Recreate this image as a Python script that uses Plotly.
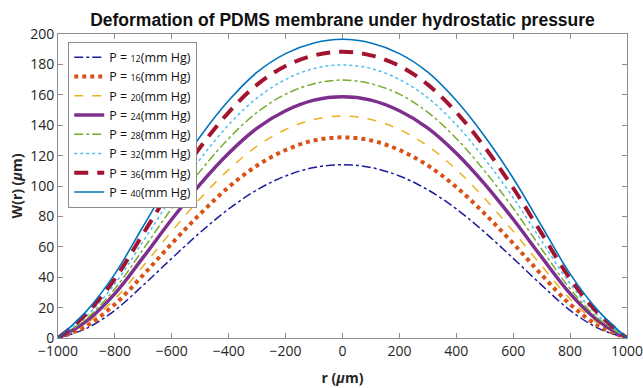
import plotly.graph_objects as go

r = [-1000, -900, -800, -700, -600, -500, -400, -300, -200, -100, 0,
     100, 200, 300, 400, 500, 600, 700, 800, 900, 1000]

pressures = ["12", "16", "20", "24", "28", "32", "36", "40"]

w12 = [0, 6.3, 18.2, 34.8, 52.4, 69.5, 84.9, 97.5, 106.6, 112.2, 114.0,
       112.2, 106.6, 97.5, 84.9, 69.5, 52.4, 34.8, 18.2, 6.3, 0]
w16 = [0, 7.9, 22.2, 41.6, 62.2, 81.7, 99.3, 113.5, 123.7, 130.0, 132.0,
       130.0, 123.7, 113.5, 99.3, 81.7, 62.2, 41.6, 22.2, 7.9, 0]
w20 = [0, 9.5, 25.7, 47.5, 70.2, 91.8, 110.8, 126.3, 137.2, 143.8, 146.0,
       143.8, 137.2, 126.3, 110.8, 91.8, 70.2, 47.5, 25.7, 9.5, 0]
w24 = [0, 11.1, 29.2, 53.2, 78.1, 101.3, 121.6, 138.1, 149.5, 156.5, 158.7,
       156.5, 149.5, 138.1, 121.6, 101.3, 78.1, 53.2, 29.2, 11.1, 0]
w28 = [0, 12.7, 32.4, 58.5, 85.4, 109.8, 131.3, 148.5, 160.4, 167.3, 169.7,
       167.3, 160.4, 148.5, 131.3, 109.8, 85.4, 58.5, 32.4, 12.7, 0]
w32 = [0, 14.4, 35.7, 63.8, 92.3, 117.8, 140.3, 158.0, 170.1, 177.3, 179.6,
       177.3, 170.1, 158.0, 140.3, 117.8, 92.3, 63.8, 35.7, 14.4, 0]
w36 = [0, 16.0, 39.0, 68.8, 98.7, 125.5, 148.5, 166.7, 179.0, 185.9, 188.4,
       185.9, 179.0, 166.7, 148.5, 125.5, 98.7, 68.8, 39.0, 16.0, 0]
w40 = [0, 17.7, 42.2, 73.7, 105.1, 132.6, 156.2, 174.9, 187.1, 194.1, 196.5,
       194.1, 187.1, 174.9, 156.2, 132.6, 105.1, 73.7, 42.2, 17.7, 0]

series = [w12, w16, w20, w24, w28, w32, w36, w40]
colors = ["#1c1c9c", "#D95319", "#EDB120", "#7E2F8E", "#77AC30", "#4DBEEE", "#A2142F", "#0072BD"]
dashes = ["dashdot", "dot", "dash", "solid", "dashdot", "dot", "14px,9px", "solid"]
widths = [1.5, 4, 1.5, 3.5, 1.5, 1.5, 4, 1.6]

x_ticks = [-1000, -800, -600, -400, -200, 0, 200, 400, 600, 800, 1000]
y_ticks = [0, 20, 40, 60, 80, 100, 120, 140, 160, 180, 200]

fig = go.Figure()
for p, w, c, d, lw in zip(pressures, series, colors, dashes, widths):
    fig.add_trace(go.Scatter(
        x=r, y=w, mode="lines",
        line=dict(color=c, dash=d, width=lw, shape="spline", smoothing=1.0),
        name="P = <span style='font-size:9px'>" + p + "</span>(mm Hg)",
    ))

axis_common = dict(
    showline=True, linecolor="#8c8c8c", linewidth=1, mirror="ticks",
    ticks="inside", ticklen=5, tickcolor="#8c8c8c",
    showgrid=False, zeroline=False, automargin=False,
    ticklabeloverflow="allow",
    tickfont=dict(family="Open Sans, DejaVu Sans, sans-serif", size=14, color="#262626"),
)

fig.update_layout(
    width=643, height=388,
    margin=dict(l=58, r=16, t=34, b=50),
    paper_bgcolor="white", plot_bgcolor="white",
    title=dict(
        text="<b>Deformation of PDMS membrane under hydrostatic pressure</b>",
        x=0.5, xref="paper", xanchor="center",
        y=0.948, yref="container", yanchor="middle",
        font=dict(family="Liberation Sans, Arial, sans-serif", size=17.5, color="#111111"),
    ),
    xaxis=dict(
        range=[-1000, 1000], tickvals=x_ticks,
        title=dict(text="<b>r (<i>μ</i>m)</b>", standoff=14,
                   font=dict(family="Open Sans, DejaVu Sans, sans-serif", size=14, color="#262626")),
        **axis_common,
    ),
    yaxis=dict(
        range=[0, 200], tickvals=y_ticks,
        title=dict(text="<b>W(r) (<i>μ</i>m)</b>", standoff=4,
                   font=dict(family="Open Sans, DejaVu Sans, sans-serif", size=14, color="#262626")),
        **axis_common,
    ),
    legend=dict(
        x=0.018, y=0.975, xanchor="left", yanchor="top",
        bgcolor="white", bordercolor="#8c8c8c", borderwidth=1,
        font=dict(family="Open Sans, DejaVu Sans, sans-serif", size=12.5, color="#111111"),
        tracegroupgap=0, itemwidth=30,
    ),
    showlegend=True,
)

fig.write_html("out.html")
